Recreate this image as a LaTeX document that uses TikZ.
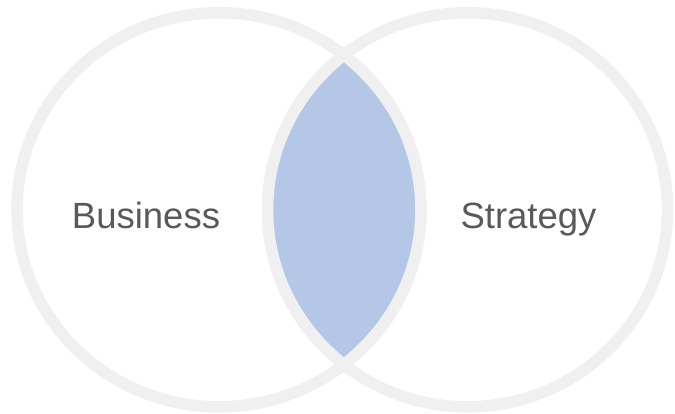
\documentclass[tikz,border=0pt]{standalone}
\usepackage{fontspec}
\setmainfont{Liberation Sans}
\usepackage{tikz}

\definecolor{ringgray}{HTML}{F0F0F0}
\definecolor{lensblue}{HTML}{B4C7E7}
\definecolor{textgray}{HTML}{595959}

\begin{document}
\begin{tikzpicture}[x=1pt,y=-1pt]

        \useasboundingbox (0,0) rectangle (675,414);

        \coordinate (b) at (219,209.8);
        \coordinate (s) at (467.5,209.8);

        \begin{scope}
          \clip (b) ellipse [x radius=202, y radius=197];
          \fill[lensblue] (s) ellipse [x radius=200, y radius=197];
        \end{scope}

        \begin{scope}[every path/.style={draw=ringgray, line width=11.6pt}]
          \path (b) ellipse [x radius=202, y radius=197];
          \path (s) ellipse [x radius=200, y radius=197];
        \end{scope}

        \begin{scope}[every node/.style={anchor=base, text=textgray, font=\fontsize{36.5}{40}\selectfont}]
          \node (business) at (146,229) {Business};
          \node (strategy) at (528.5,229) {Strategy};
        \end{scope}

      \end{tikzpicture}
\end{document}
